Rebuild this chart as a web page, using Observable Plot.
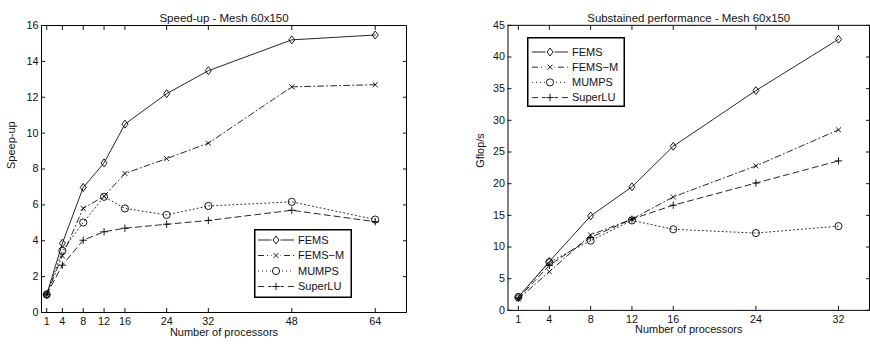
<!DOCTYPE html>
<html><head><meta charset="utf-8">
<script src="https://cdn.jsdelivr.net/npm/d3@7"></script>
<script src="https://cdn.jsdelivr.net/npm/@observablehq/plot@0.6"></script>
<style>
html,body{margin:0;padding:0;background:#fff;overflow:hidden;width:870px;height:344px;}
#wrap{position:relative;width:870px;height:344px;overflow:hidden;}
.panel{position:absolute;top:0;}
</style></head><body><div id="wrap"></div>
<script>
// ---- Data: Speed-up (left) ----
const procsA = [1, 4, 8, 12, 16, 24, 32, 48, 64];
const speedFEMS   = [1.0, 3.86, 6.97, 8.34, 10.5, 12.2, 13.48, 15.2, 15.47];
const speedFEMSM  = [1.0, 3.16, 5.81, 6.48, 7.75, 8.58, 9.44, 12.58, 12.7];
const speedMUMPS  = [1.0, 3.44, 5.02, 6.45, 5.8, 5.44, 5.94, 6.17, 5.18];
const speedSuperLU= [1.0, 2.64, 4.03, 4.5, 4.7, 4.92, 5.13, 5.7, 5.06];
const xTicksA = [1, 4, 8, 12, 16, 24, 32, 48, 64];
const yTicksA = [0, 2, 4, 6, 8, 10, 12, 14, 16];

// ---- Data: Sustained performance (right) ----
const procsB = [1, 4, 8, 12, 16, 24, 32];
const gfFEMS    = [2.1, 7.7, 14.9, 19.5, 25.9, 34.7, 42.8];
const gfFEMSM   = [1.8, 6.1, 11.9, 14.4, 17.9, 22.8, 28.5];
const gfMUMPS   = [2.1, 7.6, 11.0, 14.2, 12.8, 12.2, 13.3];
const gfSuperLU = [1.9, 7.1, 11.5, 14.4, 16.6, 20.1, 23.6];
const xTicksB = [1, 4, 8, 12, 16, 24, 32];
const yTicksB = [0, 5, 10, 15, 20, 25, 30, 35, 40, 45];

const seriesNames = ["FEMS", "FEMS\u2212M", "MUMPS", "SuperLU"];

// MATLAB-like diamond (wider than d3's)
const matDiamond = {
  draw(ctx, size) {
    const hh = Math.sqrt(size / 1.5), hw = hh * 0.75;
    ctx.moveTo(0, -hh); ctx.lineTo(hw, 0); ctx.lineTo(0, hh); ctx.lineTo(-hw, 0); ctx.closePath();
  }
};

// ---- Styles ----
const styles = {
  "FEMS":       {dash: null,      symbol: matDiamond,     r: 2.76, sw: 0.9},
  "FEMS\u2212M":{dash: "6,3,1,3", symbol: d3.symbolTimes, r: 2.4,  sw: 0.9},
  "MUMPS":      {dash: "1,3",     symbol: d3.symbolCircle,r: 3.6,  sw: 0.9},
  "SuperLU":    {dash: "6,4",     symbol: d3.symbolPlus,  r: 2.5,  sw: 0.9}
};

function rows(procs, arrays) {
  const out = [];
  seriesNames.forEach((s, i) => procs.forEach((p, j) => out.push({series: s, p, v: arrays[i][j]})));
  return out;
}

const font = "'Liberation Sans', Arial, Helvetica, sans-serif";

function makeChart(cfg) {
  const data = rows(cfg.procs, cfg.arrays);
  const marks = [];
  seriesNames.forEach(s => {
    const st = styles[s];
    const d = data.filter(r => r.series === s);
    marks.push(Plot.line(d, {x: "p", y: "v", stroke: "#000", strokeWidth: 0.85, strokeDasharray: st.dash}));
  });
  seriesNames.forEach(s => {
    const st = styles[s];
    const d = data.filter(r => r.series === s);
    marks.push(Plot.dot(d, {x: "p", y: "v", symbol: st.symbol, r: st.r, stroke: "#000", fill: "none", strokeWidth: st.sw}));
  });
  const noTxt = () => "";
  marks.push(
    Plot.frame({stroke: "#000", strokeWidth: 1}),
    Plot.axisX({anchor: "bottom", ticks: cfg.xTicks, tickSize: 0, tickPadding: 5, fontSize: 10.8, label: null}),
    Plot.axisY({anchor: "left", ticks: cfg.yTicks, tickSize: 0, tickPadding: 3, fontSize: 10.8, label: null}),
    Plot.axisX({anchor: "bottom", ticks: cfg.xTicks, tickSize: 4, dy: -4, tickFormat: noTxt, label: null}),
    Plot.axisX({anchor: "top", ticks: cfg.xTicks, tickSize: 4, dy: 4, tickFormat: noTxt, label: null}),
    Plot.axisY({anchor: "left", ticks: cfg.yTicks, tickSize: 4, dx: 4, tickFormat: noTxt, label: null}),
    Plot.axisY({anchor: "right", ticks: cfg.yTicks, tickSize: 4, dx: -4, tickFormat: noTxt, label: null}),
    Plot.text([cfg.title], {text: d => d, frameAnchor: "top", dy: -12, fontSize: 11.5}),
    Plot.text([cfg.xLabel], {text: d => d, frameAnchor: "bottom", dy: 23, fontSize: 11}),
    Plot.text([cfg.yLabel], {text: d => d, frameAnchor: "left", dx: cfg.yLabelDx, rotate: -90, fontSize: 11})
  );
  return Plot.plot({
    width: cfg.width, height: 344,
    marginLeft: cfg.ml, marginRight: cfg.mr, marginTop: 25, marginBottom: 32,
    x: {domain: cfg.xDomain, axis: null},
    y: {domain: cfg.yDomain, axis: null},
    style: {fontFamily: font, fontSize: "10px", color: "#111", background: "white", overflow: "visible"},
    marks
  });
}

function legend(container, box) {
  const svg = d3.select(container).append("svg")
    .attr("width", box.w).attr("height", box.h)
    .style("position", "absolute").style("left", box.x + "px").style("top", box.y + "px");
  svg.append("rect").attr("x", 0.75).attr("y", 0.75).attr("width", box.w - 1.5).attr("height", box.h - 1.5)
    .attr("fill", "white").attr("stroke", "#000").attr("stroke-width", 1.5);
  seriesNames.forEach((s, i) => {
    const st = styles[s];
    const y = box.row0 + i * box.step;
    svg.append("line").attr("x1", box.lx1).attr("x2", box.lx2).attr("y1", y).attr("y2", y)
      .attr("stroke", "#000").attr("stroke-width", 0.85).attr("stroke-dasharray", st.dash);
    const mx = (box.lx1 + box.lx2) / 2;
    svg.append("rect").attr("x", mx - 4.5).attr("y", y - 4.5).attr("width", 9).attr("height", 9).attr("fill", "white");
    svg.append("path").attr("d", d3.symbol(st.symbol, st.r * st.r * Math.PI)())
      .attr("transform", `translate(${mx},${y})`).attr("fill", "none").attr("stroke", "#000").attr("stroke-width", st.sw);
    svg.append("text").attr("x", box.tx).attr("y", y).attr("dy", "0.35em")
      .attr("font-family", font).attr("font-size", 11).attr("fill", "#111").text(s);
  });
}

const wrap = document.getElementById("wrap");

const left = document.createElement("div"); left.className = "panel"; left.style.left = "0px";
left.appendChild(makeChart({
  procs: procsA, arrays: [speedFEMS, speedFEMSM, speedMUMPS, speedSuperLU],
  xTicks: xTicksA, yTicks: yTicksA, xDomain: [0, 70], yDomain: [0, 16],
  width: 435, ml: 41, mr: 29,
  title: "Speed-up - Mesh 60x150", xLabel: "Number of processors", yLabel: "Speep-up", yLabelDx: -30
}));
wrap.appendChild(left);

const right = document.createElement("div"); right.className = "panel"; right.style.left = "435px";
right.appendChild(makeChart({
  procs: procsB, arrays: [gfFEMS, gfFEMSM, gfMUMPS, gfSuperLU],
  xTicks: xTicksB, yTicks: yTicksB, xDomain: [0, 35], yDomain: [0, 45],
  width: 438, ml: 73, mr: 1,
  title: "Substained performance - Mesh 60x150", xLabel: "Number of processors", yLabel: "Gflop/s", yLabelDx: -28
}));
wrap.appendChild(right);

legend(wrap, {x: 254, y: 229, w: 98, h: 69, row0: 11, step: 15.5, lx1: 4, lx2: 40, tx: 44});
legend(wrap, {x: 527, y: 37, w: 98, h: 70, row0: 15, step: 15.2, lx1: 5, lx2: 41, tx: 45});
</script></body></html>
